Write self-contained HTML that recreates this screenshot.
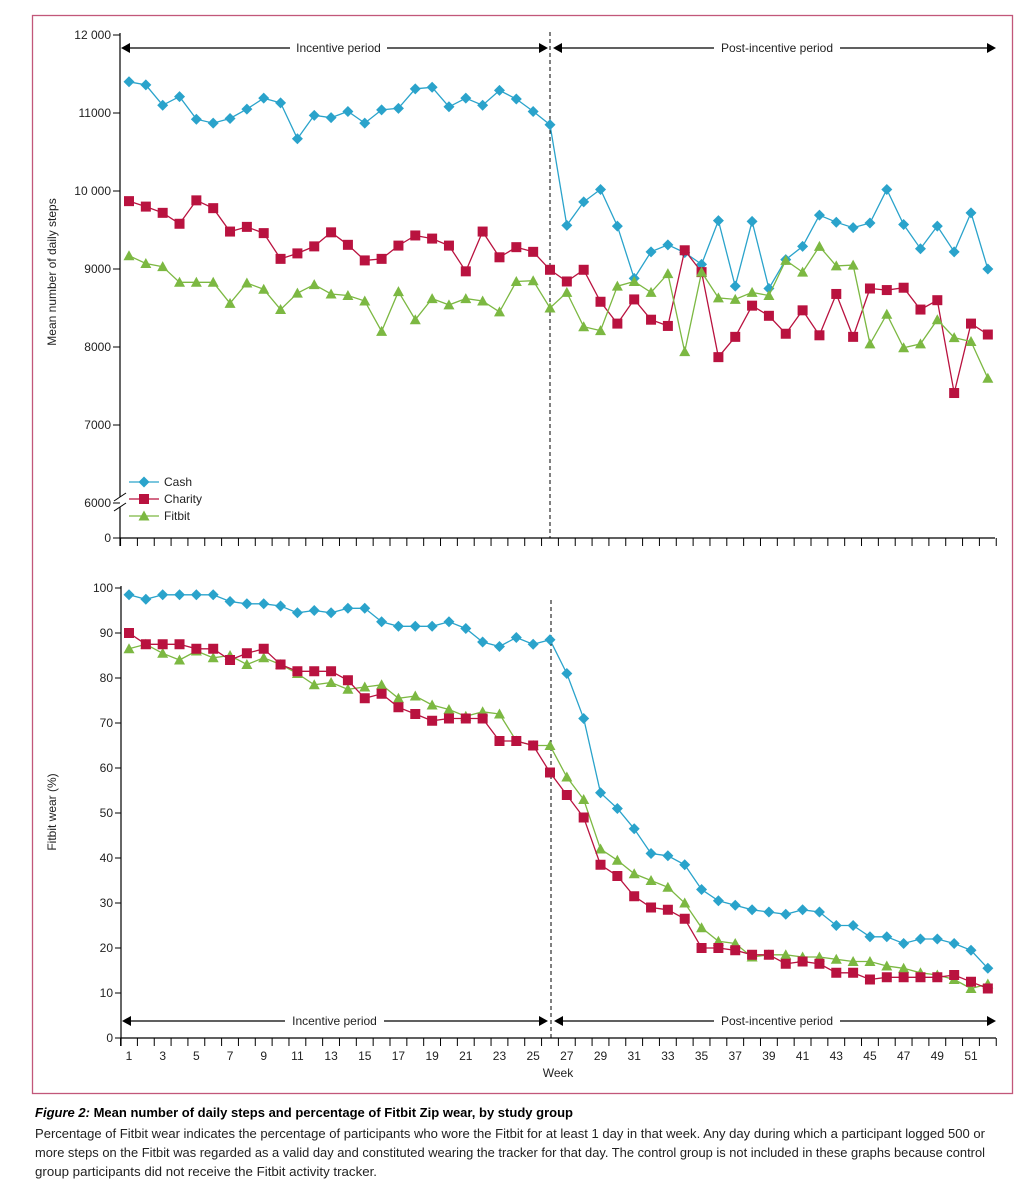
<!DOCTYPE html>
<html><head><meta charset="utf-8"><style>
html,body{margin:0;padding:0;background:#fff;}
svg{display:block;font-family:"Liberation Sans",sans-serif;}
</style></head><body>
<svg id="svg" width="1034" height="1200" viewBox="0 0 1034 1200" xmlns="http://www.w3.org/2000/svg">
<rect x="32.5" y="15.5" width="980" height="1078" fill="none" stroke="#c2577a" stroke-width="1.3"/>
<g id="topchart"></g>
<g id="botchart"></g>
<text x="35" y="1117" font-size="13" font-weight="bold" textLength="538" lengthAdjust="spacingAndGlyphs"><tspan font-style="italic">Figure 2:</tspan> Mean number of daily steps and percentage of Fitbit Zip wear, by study group</text>
<text x="35" y="1138" font-size="12.5" fill="#222" textLength="950" lengthAdjust="spacingAndGlyphs">Percentage of Fitbit wear indicates the percentage of participants who wore the Fitbit for at least 1 day in that week. Any day during which a participant logged 500 or</text>
<text x="35" y="1157" font-size="12.5" fill="#222" textLength="950" lengthAdjust="spacingAndGlyphs">more steps on the Fitbit was regarded as a valid day and constituted wearing the tracker for that day. The control group is not included in these graphs because control</text>
<text x="35" y="1176" font-size="12.5" fill="#222" textLength="342" lengthAdjust="spacingAndGlyphs">group participants did not receive the Fitbit activity tracker.</text>
</svg>
<script>
const weeks = Array.from({length:52},(_,i)=>i+1);
const stepsCash = [11400,11360,11100,11210,10920,10870,10930,11050,11190,11130,10670,10970,10940,11020,10870,11040,11060,11310,11330,11080,11190,11100,11290,11180,11020,10850,9560,9860,10020,9550,8880,9220,9310,9210,9060,9620,8780,9610,8750,9120,9290,9690,9600,9530,9590,10020,9570,9260,9550,9220,9720,9000];
const stepsCharity = [9870,9800,9720,9580,9880,9780,9480,9540,9460,9130,9200,9290,9470,9310,9110,9130,9300,9430,9390,9300,8970,9480,9150,9280,9220,8990,8840,8990,8580,8300,8610,8350,8270,9240,8960,7870,8130,8530,8400,8170,8470,8150,8680,8130,8750,8730,8760,8480,8600,7410,8300,8160];
const stepsFitbit = [9170,9070,9030,8830,8830,8830,8560,8820,8740,8480,8690,8800,8680,8660,8590,8200,8710,8350,8620,8540,8620,8590,8450,8840,8850,8500,8700,8260,8210,8780,8840,8700,8940,7940,8960,8630,8610,8700,8660,9110,8960,9290,9040,9050,8040,8420,7990,8040,8350,8120,8070,7600];
const wearCash = [98.5,97.5,98.5,98.5,98.5,98.5,97,96.5,96.5,96,94.5,95,94.5,95.5,95.5,92.5,91.5,91.5,91.5,92.5,91,88,87,89,87.5,88.5,81,71,54.5,51,46.5,41,40.5,38.5,33,30.5,29.5,28.5,28,27.5,28.5,28,25,25,22.5,22.5,21,22,22,21,19.5,15.5];
const wearCharity = [90,87.5,87.5,87.5,86.5,86.5,84,85.5,86.5,83,81.5,81.5,81.5,79.5,75.5,76.5,73.5,72,70.5,71,71,71,66,66,65,59,54,49,38.5,36,31.5,29,28.5,26.5,20,20,19.5,18.5,18.5,16.5,17,16.5,14.5,14.5,13,13.5,13.5,13.5,13.5,14,12.5,11];
const wearFitbit = [86.5,87.5,85.5,84,86,84.5,85,83,84.5,83,81,78.5,79,77.5,78,78.5,75.5,76,74,73,71.5,72.5,72,66,65,65,58,53,42,39.5,36.5,35,33.5,30,24.5,21.5,21,18,18.5,18.5,18,18,17.5,17,17,16,15.5,14.5,14,13,11,12];
const stepTicks = [6000,7000,8000,9000,10000,11000,12000];
const stepTickLabels = ["6000","7000","8000","9000","10 000","11000","12 000"];
const wearTicks = [0,10,20,30,40,50,60,70,80,90,100];
const weekLabels = [1,3,5,7,9,11,13,15,17,19,21,23,25,27,29,31,33,35,37,39,41,43,45,47,49,51];
const seriesNames = ["Cash","Charity","Fitbit"];

const COL = {Cash:"#2aa3cb", Charity:"#b9123f", Fitbit:"#7cb842"};
const NS="http://www.w3.org/2000/svg";
function mk(parent, tag, attrs, txt){const e=document.createElementNS(NS,tag);for(const k in attrs)e.setAttribute(k,attrs[k]);if(txt!==undefined)e.textContent=txt;parent.appendChild(e);return e;}
const xw = w => 129 + (w-1)*16.84;
const ySteps = v => v<=0 ? 538 : 503 - (v-6000)*0.078;
const yWear = v => 1038 - v*4.5;

function marker(g, shape, x, y, c){
  let e;
  if(shape==="Cash") e=mk(g,"polygon",{points:`${x},${y-5.5} ${x+5.5},${y} ${x},${y+5.5} ${x-5.5},${y}`,fill:c});
  else if(shape==="Charity") e=mk(g,"rect",{x:x-5,y:y-5,width:10,height:10,fill:c});
  else e=mk(g,"polygon",{points:`${x},${y-5.5} ${x+5.5},${y+4.5} ${x-5.5},${y+4.5}`,fill:c});
  
  
}
function series(g, name, vals, yf){
  const s=mk(g,"g",{});
  
  
  const pts=vals.map((v,i)=>xw(weeks[i]).toFixed(1)+","+yf(v).toFixed(1)).join(" ");
  const l=mk(s,"polyline",{points:pts,fill:"none",stroke:COL[name],"stroke-width":1.3});
  
  
  vals.forEach((v,i)=>marker(s,name,xw(weeks[i]),yf(v),COL[name]));
}
function arrowBar(g, y, x1, x2, label, lx1, lx2, nm){
  const a=mk(g,"g",{});
  
  
  mk(a,"line",{x1:x1+6,y1:y,x2:lx1,y2:y,stroke:"#000","stroke-width":1.2});
  mk(a,"line",{x1:lx2,y1:y,x2:x2-6,y2:y,stroke:"#000","stroke-width":1.2});
  mk(a,"polygon",{points:`${x1},${y} ${x1+9},${y-5} ${x1+9},${y+5}`,fill:"#000"});
  mk(a,"polygon",{points:`${x2},${y} ${x2-9},${y-5} ${x2-9},${y+5}`,fill:"#000"});
  mk(a,"text",{x:(lx1+lx2)/2,y:y+4,"font-size":12,"text-anchor":"middle",fill:"#222"},label);
}

// TOP
const topG=document.getElementById("topchart");
mk(topG,"line",{x1:120,y1:33,x2:120,y2:497,stroke:"#000","stroke-width":1.2});
mk(topG,"line",{x1:120,y1:507,x2:120,y2:546,stroke:"#000","stroke-width":1.2});
mk(topG,"line",{x1:114,y1:501,x2:126,y2:493,stroke:"#000","stroke-width":1});
mk(topG,"line",{x1:114,y1:511,x2:126,y2:503,stroke:"#000","stroke-width":1});
mk(topG,"line",{x1:120,y1:538,x2:995,y2:538,stroke:"#000","stroke-width":1.2});
stepTicks.forEach((t,i)=>{
  mk(topG,"line",{x1:113,y1:ySteps(t),x2:120,y2:ySteps(t),stroke:"#000"});
  const tl=mk(topG,"text",{x:111,y:ySteps(t)+4,"font-size":12,"text-anchor":"end",fill:"#222"},stepTickLabels[i]);
  
  
});
mk(topG,"line",{x1:113,y1:538,x2:120,y2:538,stroke:"#000"});
mk(topG,"text",{x:111,y:542,"font-size":12,"text-anchor":"end",fill:"#222"},"0");
for(let w=0;w<=52;w++){const x=xw(w)+8.4;mk(topG,"line",{x1:x,y1:538,x2:x,y2:546,stroke:"#000"});}
mk(topG,"line",{x1:550,y1:32,x2:550,y2:538,stroke:"#000","stroke-dasharray":"4,3"});
arrowBar(topG,48,121,548,"Incentive period",290,387,"incentive-period-arrow-top");
arrowBar(topG,48,553,996,"Post-incentive period",714,840,"post-incentive-arrow-top");
const yt=mk(topG,"text",{transform:"translate(56,272) rotate(-90)","font-size":12,"text-anchor":"middle",fill:"#222"},"Mean number of daily steps");

series(topG,"Cash",stepsCash,ySteps);
series(topG,"Charity",stepsCharity,ySteps);
series(topG,"Fitbit",stepsFitbit,ySteps);
seriesNames.forEach((n,i)=>{
  const y=482+i*17;
  const lg=mk(topG,"g",{});
  
  
  mk(lg,"line",{x1:129,y1:y,x2:159,y2:y,stroke:COL[n],"stroke-width":1.3});
  marker(lg,n,144,y,COL[n]);
  mk(lg,"text",{x:164,y:y+4,"font-size":12,fill:"#222"},n);
});

// BOTTOM
const botG=document.getElementById("botchart");
mk(botG,"line",{x1:121,y1:586,x2:121,y2:1046,stroke:"#000","stroke-width":1.2});
mk(botG,"line",{x1:121,y1:1038,x2:996,y2:1038,stroke:"#000","stroke-width":1.2});
wearTicks.forEach(t=>{
  mk(botG,"line",{x1:115,y1:yWear(t),x2:121,y2:yWear(t),stroke:"#000"});
  const tl=mk(botG,"text",{x:113,y:yWear(t)+4,"font-size":12,"text-anchor":"end",fill:"#222"},String(t));
  
  
});
for(let w=0;w<=52;w++){const x=xw(w)+8.4;mk(botG,"line",{x1:x,y1:1038,x2:x,y2:1046,stroke:"#000"});}
weekLabels.forEach(w=>{
  const tl=mk(botG,"text",{x:xw(w),y:1060,"font-size":12,"text-anchor":"middle",fill:"#222"},String(w));
  
  
});
const xt=mk(botG,"text",{x:558,y:1077,"font-size":12,"text-anchor":"middle",fill:"#222"},"Week");

mk(botG,"line",{x1:551,y1:600,x2:551,y2:1038,stroke:"#000","stroke-dasharray":"4,3"});
arrowBar(botG,1021,122,548,"Incentive period",285,384,"incentive-period-arrow-bottom");
arrowBar(botG,1021,554,996,"Post-incentive period",714,840,"post-incentive-arrow-bottom");
const yt2=mk(botG,"text",{transform:"translate(56,812) rotate(-90)","font-size":12,"text-anchor":"middle",fill:"#222"},"Fitbit wear (%)");

series(botG,"Fitbit",wearFitbit,yWear);
series(botG,"Charity",wearCharity,yWear);
series(botG,"Cash",wearCash,yWear);
</script>
</body></html>
